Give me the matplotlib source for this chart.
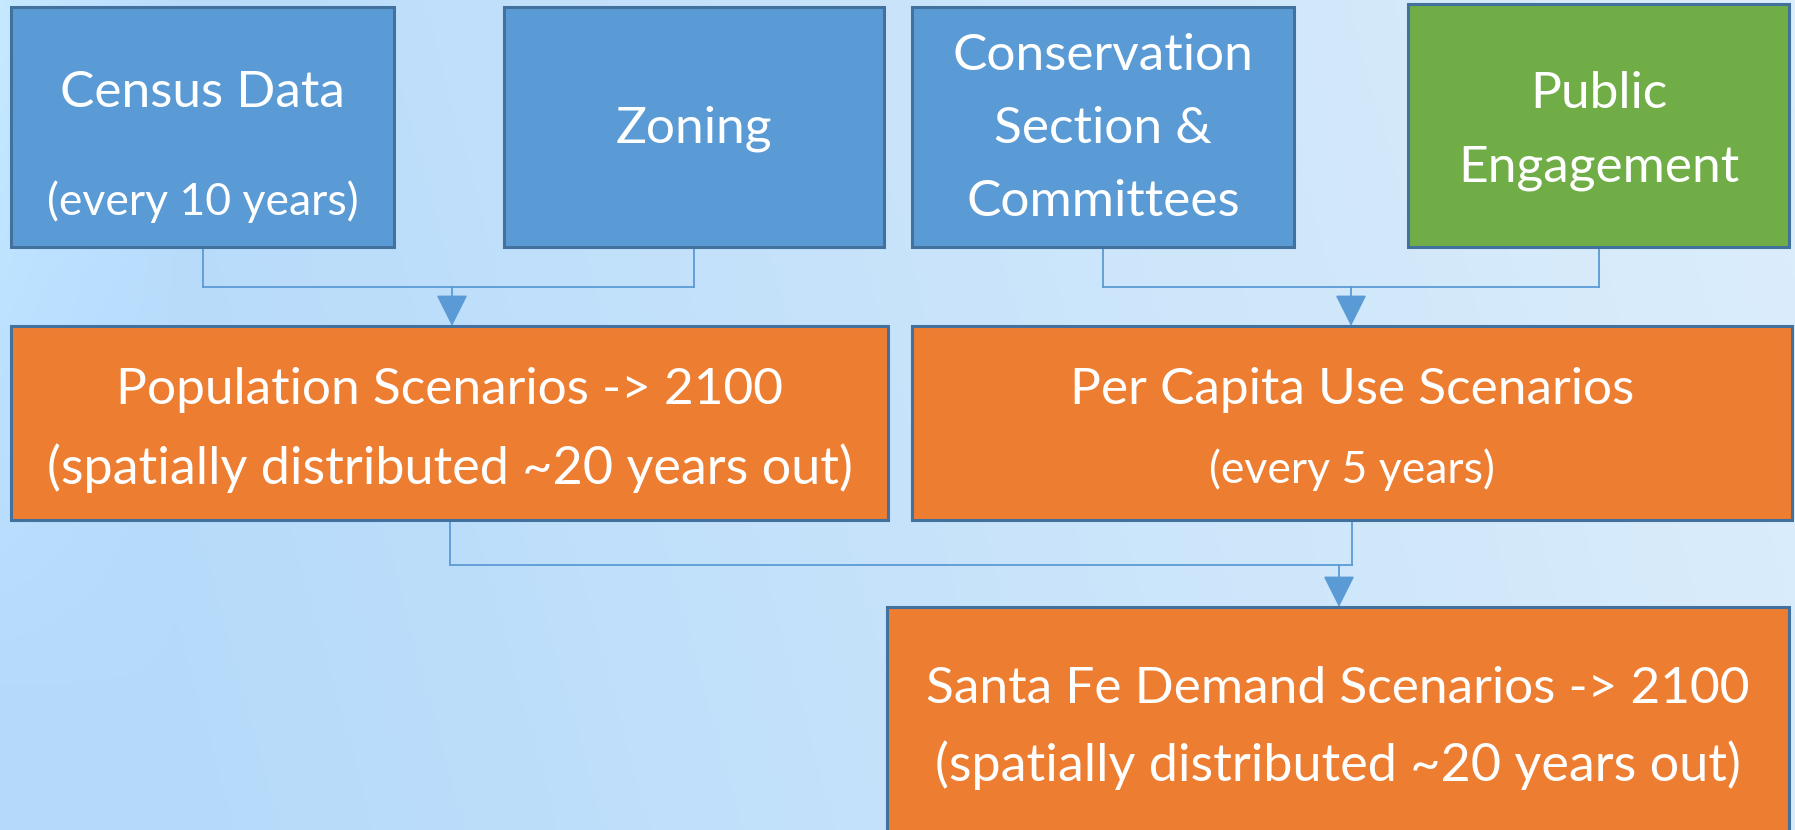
import matplotlib.pyplot as plt
import numpy as np
from matplotlib.patches import Rectangle

# box texts (line 1 is the main label, line 2 the smaller note)
box_names = ["census", "zoning", "conservation", "public", "population", "percapita", "santafe"]
box_main = [
    "Census Data",
    "Zoning",
    "Conservation\nSection &\nCommittees",
    "Public\nEngagement",
    "Population Scenarios -> 2100",
    "Per Capita Use Scenarios",
    "Santa Fe Demand Scenarios -> 2100",
]
box_note = [
    "(every 10 years)",
    "",
    "",
    "",
    "(spatially distributed ~20 years out)",
    "(every 5 years)",
    "(spatially distributed ~20 years out)",
]
box_kind = ["input", "input", "input", "public", "scenario", "scenario", "scenario"]

# which boxes feed which
links = [
    (["census", "zoning"], "population"),
    (["conservation", "public"], "percapita"),
    (["population", "percapita"], "santafe"),
]

# ---- layout (pixel space, y downwards) ----
W, H = 1795, 830
layout = {
    "census":       (11, 7, 394, 247),
    "zoning":       (504, 7, 884, 247),
    "conservation": (912, 7, 1294, 247),
    "public":       (1408, 4, 1789, 247),
    "population":   (11, 326, 888, 520),
    "percapita":    (912, 326, 1792, 520),
    "santafe":      (887, 607, 1789, 860),
}
# text line centres (main, note)
text_y = {
    "census":       (93, 202),
    "zoning":       (129, None),
    "conservation": (129, None),
    "public":       (131, None),
    "population":   (390, 468),
    "percapita":    (390, 470),
    "santafe":      (689, 765),
}
# connector details: bus y, arrow x
bus = {
    "population": (287, 452),
    "percapita":  (287, 1351),
    "santafe":    (565, 1339),
}
colors = {"input": "#5B9BD5", "public": "#70AD47", "scenario": "#ED7D31"}
edge = "#41719C"
line_c = "#5B9BD5"

plt.rcParams["font.family"] = ["Lato", "DejaVu Sans"]

fig = plt.figure(figsize=(W / 100, H / 100), dpi=100)
ax = fig.add_axes([0, 0, 1, 1])
ax.set_xlim(0, W)
ax.set_ylim(H, 0)
ax.axis("off")

# background gradient (light blue, lighter towards right)
gx = np.linspace(0, 1, 400)
gy = np.linspace(0, 1, 200)
GX, GY = np.meshgrid(gx, gy)
t = np.clip(GX * 0.95 - GY * 0.12 + 0.02, 0, 1)
c0 = np.array([0.71, 0.855, 0.98])
c1 = np.array([0.87, 0.935, 0.985])
img = c0[None, None, :] * (1 - t[..., None]) + c1[None, None, :] * t[..., None]
edge_fade = (np.clip(1 - GX * 10, 0, 1) * np.clip(1 - GY * 1.2, 0, 1))[..., None] * 0.06
img = np.clip(img + edge_fade, 0, 1)
ax.imshow(img, extent=(0, W, H, 0), aspect="auto", zorder=0)

centre_x = {n: (layout[n][0] + layout[n][2]) / 2 for n in box_names}

# connectors
for sources, target in links:
    by, ax_x = bus[target]
    xs = [centre_x[s] for s in sources]
    for s in sources:
        ax.plot([centre_x[s], centre_x[s]], [layout[s][3], by], color=line_c, lw=1.3, zorder=1)
    ax.plot([min(xs), max(xs)], [by, by], color=line_c, lw=1.3, zorder=1)
    ax.annotate("", xy=(ax_x, layout[target][1]), xytext=(ax_x, by),
                arrowprops=dict(arrowstyle="-|>,head_length=0.9,head_width=0.45",
                                mutation_scale=22, color=line_c, lw=1.3,
                                shrinkA=0, shrinkB=0), zorder=2)

# boxes
for name, main, note, kind in zip(box_names, box_main, box_note, box_kind):
    x0, y0, x1, y1 = layout[name]
    ax.add_patch(Rectangle((x0, y0), x1 - x0, y1 - y0, facecolor=colors[kind],
                           edgecolor=edge, lw=2.2, zorder=3))
    my, ny = text_y[name]
    cx = (x0 + x1) / 2
    big = note.startswith("(spatially")
    ax.text(cx, my, main, color="white", fontsize=37, ha="center", va="center",
            linespacing=1.72, zorder=4)
    if note:
        ax.text(cx, ny, note, color="white", fontsize=37.5 if big else 32,
                ha="center", va="center", zorder=4)

fig.savefig("out.png", dpi=100)
